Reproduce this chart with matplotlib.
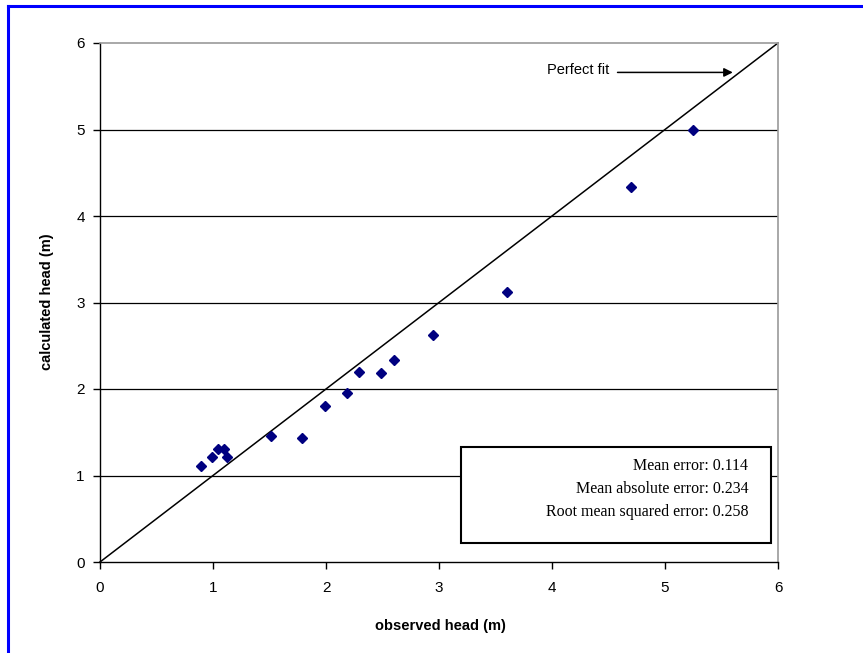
import matplotlib
matplotlib.use("Agg")
import matplotlib.pyplot as plt
from matplotlib.lines import Line2D
from matplotlib.patches import Rectangle

# Data
observed = [0.89, 0.99, 1.04, 1.10, 1.12, 1.51, 1.79, 1.99, 2.19, 2.29, 2.49, 2.60, 2.95, 3.60, 4.70, 5.25]
calculated = [1.11, 1.21, 1.31, 1.31, 1.21, 1.46, 1.43, 1.80, 1.95, 2.20, 2.19, 2.33, 2.62, 3.12, 4.33, 4.99]
fit_line = [0, 6]
ticks = [0, 1, 2, 3, 4, 5, 6]
stats_lines = ["Mean error: 0.114", "Mean absolute error: 0.234", "Root mean squared error: 0.258"]

plt.rcParams['font.family'] = ['Liberation Sans', 'DejaVu Sans']

W, H = 863, 653
fig = plt.figure(figsize=(W / 100, H / 100), dpi=100)
fig.patch.set_facecolor("white")

ax = fig.add_axes([100 / W, 1 - 562 / H, 678 / W, 519 / H])
ax.set_xlim(0, 6)
ax.set_ylim(0, 6)
ax.set_xticks(ticks)
ax.set_yticks(ticks)
ax.set_xticklabels([str(t) for t in ticks])
ax.set_yticklabels([str(t) for t in ticks])
ax.tick_params(axis='both', direction='out', length=5, width=1, color='black', labelsize=11)
ax.tick_params(axis='x', pad=9)
ax.tick_params(axis='y', pad=6)

# gridlines
for t in ticks[1:-1]:
    ax.axhline(t, color='black', lw=0.9, zorder=1)

for side in ['left', 'bottom']:
    ax.spines[side].set_color('black')
    ax.spines[side].set_linewidth(1.0)
for side in ['top', 'right']:
    ax.spines[side].set_color('#9a9a9a')
    ax.spines[side].set_linewidth(1.2)

# perfect fit line
ax.plot(fit_line, fit_line, color='black', lw=1.1, zorder=2, clip_on=False)

# data
ax.plot(observed, calculated, linestyle='none', marker='D', markersize=5,
        color='#000080', markeredgecolor='#000080', zorder=4)

# annotation
ax.annotate("", xy=(5.6, 5.66), xytext=(4.58, 5.66),
            arrowprops=dict(arrowstyle='-|>', color='black', lw=1.1,
                            mutation_scale=13, shrinkA=0, shrinkB=0))
ax.text(4.51, 5.69, "Perfect fit", ha='right', va='center', fontsize=10.5)

# stats box
box = Rectangle((0.532, 0.037), 0.458, 0.185, transform=ax.transAxes,
                facecolor='white', edgecolor='black', lw=1.5, zorder=5)
ax.add_patch(box)
ys = [0.185, 0.141, 0.096]
for s, yy in zip(stats_lines, ys):
    ax.text(0.956, yy, s, transform=ax.transAxes, ha='right', va='center',
            fontsize=11.5, family=['Liberation Serif', 'DejaVu Serif'], zorder=6)

# axis labels
fig.text(440 / W, 1 - 626 / H, "observed head (m)", ha='center', va='center',
         fontsize=10.5, fontweight='bold')
fig.text(47 / W, 1 - 302 / H, "calculated head (m)", ha='center', va='center',
         rotation=90, fontsize=10.5, fontweight='bold')

# blue frame
fig.add_artist(Line2D([8 / W, 1], [1 - 6 / H, 1 - 6 / H], color='#0000ff', lw=2.2,
                      transform=fig.transFigure))
fig.add_artist(Line2D([8 / W, 8 / W], [0, 1 - 6 / H], color='#0000ff', lw=2.2,
                      transform=fig.transFigure))

fig.savefig("out.png", dpi=100)
